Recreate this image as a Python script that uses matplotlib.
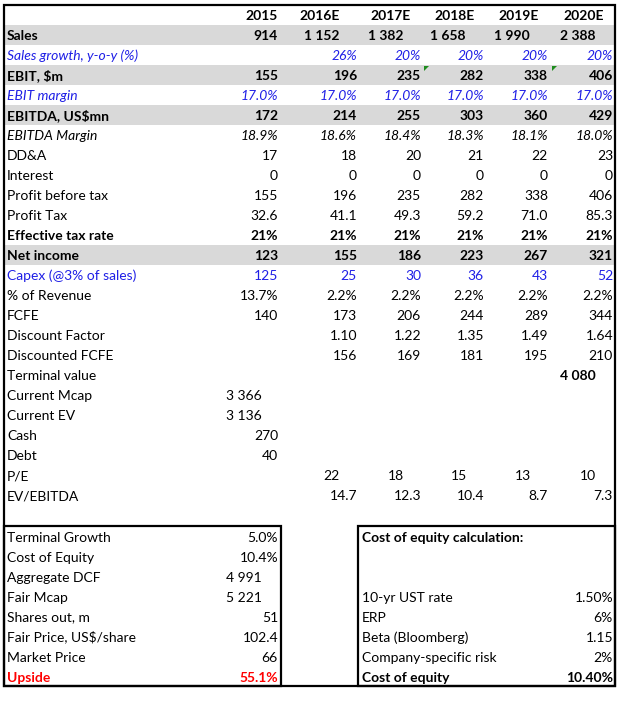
import matplotlib

matplotlib.use("Agg")
import matplotlib.pyplot as plt
from matplotlib.patches import Rectangle, Polygon

# ---- data -------------------------------------------------------------
YEARS = ["2015", "2016E", "2017E", "2018E", "2019E", "2020E"]
SALES = ["914", "1 152", "1 382", "1 658", "1 990", "2 388"]
SALES_GROWTH = ["", "26%", "20%", "20%", "20%", "20%"]
EBIT = ["155", "196", "235", "282", "338", "406"]
EBIT_MARGIN = ["17.0%", "17.0%", "17.0%", "17.0%", "17.0%", "17.0%"]
EBITDA = ["172", "214", "255", "303", "360", "429"]
EBITDA_MARGIN = ["18.9%", "18.6%", "18.4%", "18.3%", "18.1%", "18.0%"]
DDA = ["17", "18", "20", "21", "22", "23"]
INTEREST = ["0", "0", "0", "0", "0", "0"]
PROFIT_BEFORE_TAX = ["155", "196", "235", "282", "338", "406"]
PROFIT_TAX = ["32.6", "41.1", "49.3", "59.2", "71.0", "85.3"]
TAX_RATE = ["21%", "21%", "21%", "21%", "21%", "21%"]
NET_INCOME = ["123", "155", "186", "223", "267", "321"]
CAPEX = ["125", "25", "30", "36", "43", "52"]
PCT_REVENUE = ["13.7%", "2.2%", "2.2%", "2.2%", "2.2%", "2.2%"]
FCFE = ["140", "173", "206", "244", "289", "344"]
DISCOUNT_FACTOR = ["", "1.10", "1.22", "1.35", "1.49", "1.64"]
DISCOUNTED_FCFE = ["", "156", "169", "181", "195", "210"]
TERMINAL_VALUE = ["", "", "", "", "", "4 080"]
CURRENT_MCAP = ["3 366", "", "", "", "", ""]
CURRENT_EV = ["3 136", "", "", "", "", ""]
CASH = ["270", "", "", "", "", ""]
DEBT = ["40", "", "", "", "", ""]
PE = ["", "22", "18", "15", "13", "10"]
EV_EBITDA = ["", "14.7", "12.3", "10.4", "8.7", "7.3"]

DCF_LABELS = ["Terminal Growth", "Cost of Equity", "Aggregate DCF", "Fair Mcap",
              "Shares out, m", "Fair Price, US$/share", "Market Price", "Upside"]
DCF_VALUES = ["5.0%", "10.4%", "4 991", "5 221", "51", "102.4", "66", "55.1%"]

COE_TITLE = "Cost of equity calculation:"
COE_LABELS = ["", "", "10-yr UST rate", "ERP", "Beta (Bloomberg)",
              "Company-specific risk", "Cost of equity"]
COE_VALUES = ["", "", "1.50%", "6%", "1.15", "2%", "10.40%"]

# ---- style ------------------------------------------------------------
FONT = "Lato"
FS = 10
BLUE = "#1f1fe6"
RED = "#ff0000"
SHADE = "#d9d9d9"
GREEN = "#1e8c1e"

LEFT, RIGHT, TOP, ROW_H = 4, 615, 5, 20
COL_RIGHT = [278, 357, 421, 484, 548, 613]
HEADER_X = [278, 320, 391, 455, 519, 584]
OFFSET = 17  # values stored as text sit a bit left of the cell edge

# label, values, bold, italic, colour, shaded, alignment mode
ROWS = [
    ("Sales", SALES, True, False, "black", True, "sales"),
    ("Sales growth, y-o-y (%)", SALES_GROWTH, False, True, BLUE, False, "right"),
    ("EBIT, $m", EBIT, True, False, "black", True, "right"),
    ("EBIT margin", EBIT_MARGIN, False, True, BLUE, False, "right"),
    ("EBITDA, US$mn", EBITDA, True, False, "black", True, "right"),
    ("EBITDA Margin", EBITDA_MARGIN, False, True, "black", False, "right"),
    ("DD&A", DDA, False, False, "black", False, "right"),
    ("Interest", INTEREST, False, False, "black", False, "right"),
    ("Profit before tax", PROFIT_BEFORE_TAX, False, False, "black", False, "right"),
    ("Profit Tax", PROFIT_TAX, False, False, "black", False, "right"),
    ("Effective tax rate", TAX_RATE, True, False, "black", False, "right"),
    ("Net income", NET_INCOME, True, False, "black", True, "right"),
    ("Capex (@3% of sales)", CAPEX, False, False, BLUE, False, "right"),
    ("% of Revenue", PCT_REVENUE, False, False, "black", False, "right"),
    ("FCFE", FCFE, False, False, "black", False, "right"),
    ("Discount Factor", DISCOUNT_FACTOR, False, False, "black", False, "right"),
    ("Discounted FCFE", DISCOUNTED_FCFE, False, False, "black", False, "right"),
    ("Terminal value", TERMINAL_VALUE, False, False, "black", False, "offset_bold"),
    ("Current Mcap", CURRENT_MCAP, False, False, "black", False, "offset"),
    ("Current EV", CURRENT_EV, False, False, "black", False, "offset"),
    ("Cash", CASH, False, False, "black", False, "right"),
    ("Debt", DEBT, False, False, "black", False, "right"),
    ("P/E", PE, False, False, "black", False, "offset"),
    ("EV/EBITDA", EV_EBITDA, False, False, "black", False, "right"),
]

fig = plt.figure(figsize=(6.39, 7.05), dpi=100)
ax = fig.add_axes([0, 0, 1, 1])
ax.set_xlim(0, 639)
ax.set_ylim(705, 0)
ax.axis("off")


def put(x, row_top, s, ha="left", bold=False, italic=False, color="black"):
    ax.text(x, row_top + 15.5, s, ha=ha, va="baseline", fontsize=FS,
            family=FONT, fontweight="bold" if bold else "normal",
            fontstyle="italic" if italic else "normal", color=color)


# header
for j, year in enumerate(YEARS):
    put(HEADER_X[j], TOP, year, ha="right" if j == 0 else "center", bold=True)

for i, (label, values, bold, italic, color, shaded, mode) in enumerate(ROWS):
    y0 = TOP + ROW_H * (i + 1)
    if shaded:
        ax.add_patch(Rectangle((LEFT, y0), RIGHT - LEFT, ROW_H, color=SHADE, lw=0, zorder=0))
    put(7, y0, label, bold=bold, italic=italic, color=color)
    for j, v in enumerate(values):
        if not v:
            continue
        x = COL_RIGHT[j]
        vbold = bold
        if mode == "sales" and j > 0:
            x -= OFFSET + 1
        elif mode.startswith("offset"):
            x -= OFFSET - 1 if j == 0 else OFFSET
            vbold = vbold or mode == "offset_bold"
        put(x, y0, v, ha="right", bold=vbold, italic=italic, color=color)

# comment markers on EBIT row
ebit_top = TOP + ROW_H * 3
for xm in (424, 552):
    ax.add_patch(Polygon([(xm, ebit_top + 1), (xm + 5, ebit_top + 1), (xm, ebit_top + 6)],
                         closed=True, color=GREEN, lw=0))

# lower boxes
box_top = TOP + ROW_H * (len(ROWS) + 2) + 1
for k, (label, value) in enumerate(zip(DCF_LABELS, DCF_VALUES)):
    y0 = box_top + ROW_H * k
    last = k == len(DCF_LABELS) - 1
    col = RED if last else "black"
    put(7, y0, label, bold=last, color=col)
    x = COL_RIGHT[0] - (OFFSET - 1 if label in ("Aggregate DCF", "Fair Mcap") else 0)
    put(x, y0, value, ha="right", bold=last, color=col)

put(362, box_top, COE_TITLE, bold=True)
for k, (label, value) in enumerate(zip(COE_LABELS, COE_VALUES)):
    if not label:
        continue
    y0 = box_top + ROW_H * (k + 1)
    last = k == len(COE_LABELS) - 1
    put(362, y0, label, bold=last)
    put(COL_RIGHT[-1], y0, value, ha="right", bold=last)

box_bottom = box_top + ROW_H * len(DCF_LABELS)
LW = 1.6
ax.add_patch(Rectangle((LEFT, TOP), RIGHT - LEFT, box_bottom - TOP, fill=False, lw=LW, ec="black"))
ax.add_patch(Rectangle((LEFT, box_top), 281 - LEFT, box_bottom - box_top, fill=False, lw=LW, ec="black"))
ax.add_patch(Rectangle((358, box_top), RIGHT - 358, box_bottom - box_top, fill=False, lw=LW, ec="black"))

fig.savefig("out.png", dpi=100, facecolor="white")
